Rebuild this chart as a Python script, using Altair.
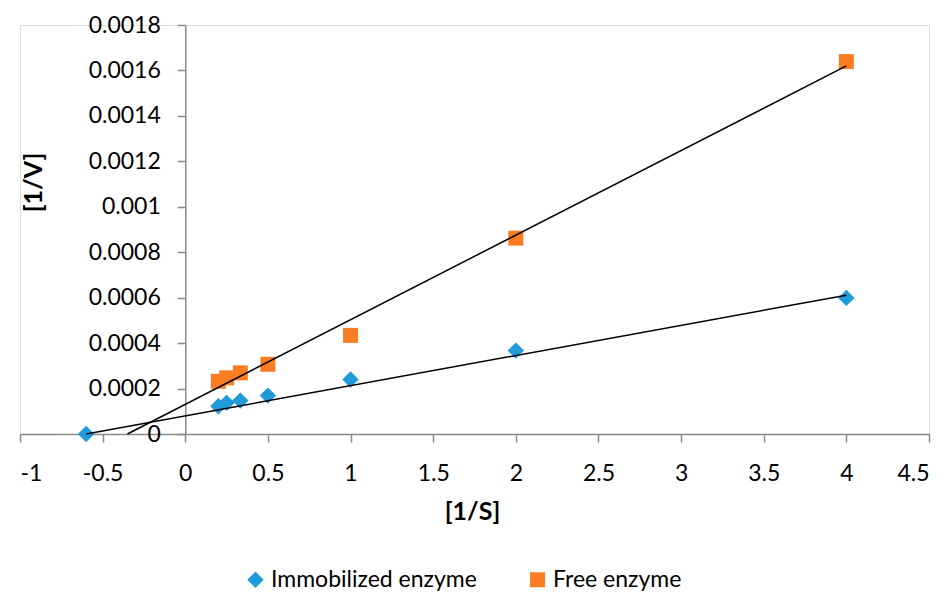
import altair as alt
import pandas as pd

# ---- data ----
series = ["Immobilized enzyme", "Free enzyme"]
colors = ["#1E9BD8", "#FA7D23"]
shapes = ["diamond", "square"]

immob_x = [-0.6, 0.2, 0.25, 0.333, 0.5, 1.0, 2.0, 4.0]
immob_y = [0.0, 0.000122, 0.000137, 0.000147, 0.000169, 0.000240, 0.000367, 0.000599]

free_x = [0.2, 0.25, 0.333, 0.5, 1.0, 2.0, 4.0]
free_y = [0.000232, 0.000247, 0.000269, 0.000307, 0.000434, 0.000862, 0.001639]

# linear trend lines (end points)
immob_fit_x = [-0.6, 4.0]
immob_fit_y = [0.0, 0.000611]
free_fit_x = [-0.35, 4.0]
free_fit_y = [0.0, 0.00162]

x_ticks = [-1, -0.5, 0, 0.5, 1, 1.5, 2, 2.5, 3, 3.5, 4, 4.5]
y_ticks = [0, 0.0002, 0.0004, 0.0006, 0.0008, 0.001, 0.0012, 0.0014, 0.0016, 0.0018]

# ---- tables ----
pts = pd.concat([
    pd.DataFrame({"x": immob_x, "y": immob_y, "series": series[0]}),
    pd.DataFrame({"x": free_x, "y": free_y, "series": series[1]}),
], ignore_index=True)

fits = pd.concat([
    pd.DataFrame({"x": immob_fit_x, "y": immob_fit_y, "series": series[0]}),
    pd.DataFrame({"x": free_fit_x, "y": free_fit_y, "series": series[1]}),
], ignore_index=True)

W, H = 909, 409
FONT = "Lato"
AX = "#898989"
x0_px = W * (0 - (-1)) / 5.5

x_axis = alt.Axis(
    values=x_ticks, labelExpr="'' + datum.value", grid=False,
    domainColor=AX, tickColor=AX, domainWidth=1.5, tickWidth=1.5, tickSize=8,
    labelFont=FONT, labelFontSize=23, labelColor="#000000", labelPadding=20,
    title="[1/S]", titleFont=FONT, titleFontSize=25, titleFontWeight="bold",
    titleColor="#000000", titleX=452, titleY=77, titleBaseline="middle",
    titleAlign="center",
)
y_axis = alt.Axis(
    values=y_ticks, labelExpr="'' + datum.value", grid=False,
    offset=-x0_px,
    domainColor=AX, tickColor=AX, domainWidth=1.5, tickWidth=1.5, tickSize=8,
    labelFont=FONT, labelFontSize=23, labelColor="#000000", labelPadding=17,
    title="[1/V]", titleFont=FONT, titleFontSize=25, titleFontWeight="bold",
    titleColor="#000000", titleX=-152, titleY=157, titleAngle=270,
    titleAlign="center", titleBaseline="middle",
)

x_scale = alt.Scale(domain=[-1, 4.5], nice=False, zero=False)
y_scale = alt.Scale(domain=[0, 0.0018], nice=False)

points = alt.Chart(pts).mark_point(filled=True, opacity=1).encode(
    x=alt.X("x:Q", scale=x_scale, axis=x_axis),
    y=alt.Y("y:Q", scale=y_scale, axis=y_axis),
    color=alt.Color("series:N", scale=alt.Scale(domain=series, range=colors),
                    legend=alt.Legend(title=None, orient="none", direction="horizontal",
                                      legendX=224, legendY=543, padding=0,
                                      labelFont=FONT, labelFontSize=23, labelColor="#000000",
                                      labelLimit=0,
                                      symbolSize=240, labelOffset=4, columnPadding=49,
                                      symbolStrokeWidth=0)),
    shape=alt.Shape("series:N", scale=alt.Scale(domain=series, range=shapes)),
    size=alt.Size("series:N", scale=alt.Scale(domain=series, range=[270, 225]), legend=None),
)

lines = alt.Chart(fits).mark_line(color="#000000", strokeWidth=1.5).encode(
    x=alt.X("x:Q", scale=x_scale, axis=x_axis),
    y=alt.Y("y:Q", scale=y_scale, axis=y_axis),
    detail="series:N",
)

chart = alt.layer(points, lines).properties(
    width=W, height=H,
    padding={"left": 20, "top": 25, "right": 18, "bottom": 158},
    autosize=alt.AutoSizeParams(type="none"),
).configure_view(stroke=None).configure(background="#ffffff")

chart.save("out.html", embed_options={"renderer": "svg", "actions": False})
